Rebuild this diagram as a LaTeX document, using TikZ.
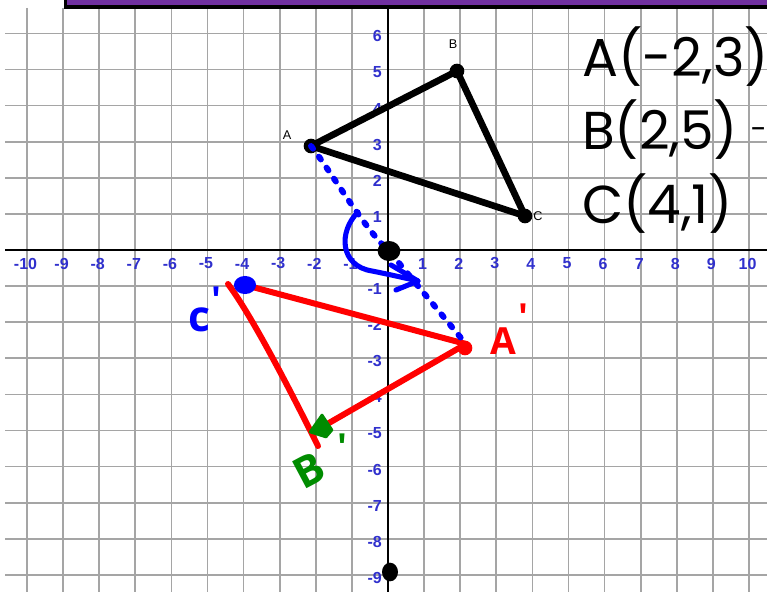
\documentclass[tikz,border=0pt]{standalone}
\usepackage{fontspec}
\newfontfamily\gothic{Poppins}
\newfontfamily\arialfont{Liberation Sans}
\newfontfamily\handfont{Open Sans}
\definecolor{gridgray}{RGB}{165,165,165}
\definecolor{axisblue}{RGB}{48,48,205}
\definecolor{barpurple}{RGB}{112,48,160}
\definecolor{penblue}{RGB}{0,0,255}
\definecolor{penred}{RGB}{255,0,0}
\definecolor{pengreen}{RGB}{0,140,0}
\tikzset{
  gridline/.style={draw=gridgray, line width=1.3pt},
  axisline/.style={draw=black, line width=2.2pt},
  xlab/.style={text=axisblue, font=\arialfont\bfseries\fontsize{12}{12}\selectfont, inner sep=0pt},
  ylab/.style={xlab, anchor=east},
  bigtext/.style={font=\gothic\fontsize{40}{40}\selectfont, inner sep=0pt, anchor=base west},
  smalllab/.style={font=\arialfont\fontsize{9.5}{9.5}\selectfont, inner sep=0pt},
  blackline/.style={draw=black, line width=5pt, line join=round, line cap=round},
  redline/.style={draw=penred, line width=4.5pt, line join=round, line cap=round},
  bluedash/.style={draw=penblue, line width=4.5pt, line cap=round, dash pattern=on 2.5pt off 7.5pt},
  bluepen/.style={draw=penblue, line width=3.8pt, line cap=round, line join=round},
  hand/.style={font=\handfont\bfseries\fontsize{#1}{#1}\selectfont, inner sep=0pt},
}
\begin{document}
\begin{tikzpicture}[x=0.75pt,y=-0.75pt]
\useasboundingbox (0,0) rectangle (767,592);
\clip (0,0) rectangle (767,592);
\fill[white] (0,0) rectangle (767,592);
% grid
\foreach \k in {-10,...,10} \draw[gridline] ({388+36.1*\k},8) -- ({388+36.1*\k},592);
\foreach \k in {-9,...,6} \draw[gridline] (5,{250-36.1*\k}) -- (767,{250-36.1*\k});
% purple bar
\fill[barpurple] (65,-5) rectangle (780,6);
\draw[black, line width=2.4pt] (65.5,-5) -- (65.5,7) -- (780,7);
% axes
\draw[axisline] (5,250) -- (767,250);
\draw[axisline] (388,7) -- (388,592);
% axis labels
\foreach \k in {-10,-9,-8,-7,-6,-5,-4,-3,-2,-1,1,2,3,4,5,6,7,8,9,10}
  \node[xlab] (xl\k) at ({388+36.1*\k-1.5},263.5) {\k};
\foreach \k in {6,5,4,3,2,1,-1,-2,-3,-4,-5,-6,-7,-8,-9}
  \node[ylab] (yl\k) at (382,{250-36.1*\k+3}) {\k};
% big coordinate text
\node[bigtext] (tA) at (582,76) {A(-2,3)};
\node[bigtext] (tB) at (582,149) {B(2,5)};
\node[font=\gothic\fontsize{22}{22}\selectfont, inner sep=0pt, anchor=east] (tBdash) at (767,134) {-};
\node[bigtext] (tC) at (582,223) {C(4,1)};
% original triangle
\coordinate (A) at (311,146);
\coordinate (B) at (457,71);
\coordinate (C) at (525,216);
\coordinate (O) at (389,251);
\draw[blackline] (A) -- (B) -- (C) -- cycle;
\foreach \p in {A,B,C} \fill[black] (\p) circle (5.5pt);
\node[smalllab] (lA) at (287,135) {A};
\node[smalllab] (lB) at (453,44) {B};
\node[smalllab] (lC) at (538,216) {C};
% image triangle
\coordinate (Cp) at (228,284);
\coordinate (Cpd) at (245,285);
\coordinate (Ap) at (466,344);
\coordinate (Bp) at (322,427);
\coordinate (Bend) at (318,446);
\draw[redline] (Cp) .. controls (255,320) and (300,410) .. (Bend);
\draw[redline] (Cpd) -- (Ap);
\draw[redline] (Ap) -- (Bp);
\fill[penred] (465,348) circle (5.5pt);
% rotation path
\draw[bluedash] (A) .. controls (330,170) and (365,230) .. (O) -- (Ap);
\coordinate (arcS) at (358,212);
\coordinate (arcE) at (418,281);
\draw[bluepen] (arcS) .. controls (338,232) and (340,266) .. (372,271) .. controls (392,275) and (405,278) .. (arcE);
\coordinate (headL) at (391,265);
\coordinate (headR) at (396,290);
\draw[bluepen] (headL) -- (arcE) -- (headR);
% dots
\fill[black] (O) ellipse [x radius=8.5pt, y radius=7.5pt];
\fill[black] (390,572) ellipse [x radius=6pt, y radius=7pt];
\fill[penblue] (Cpd) ellipse [x radius=8.3pt, y radius=6.8pt];
\filldraw[pengreen, line width=2pt, line join=round] (310,432) -- (322,415) -- (332,430) -- (326,437) -- cycle;
% handwritten labels
\node[hand=32, text=penblue] (lCp) at (199,320) {c};
\node[hand=28, text=penblue, anchor=north west] (lCpp) at (211,287) {'};
\node[hand=32, text=pengreen, rotate=28] (lBp) at (309,470) {B};
\node[hand=28, text=pengreen, anchor=north west] (lBpp) at (337,434) {'};
\node[hand=28, text=penred] (lAp) at (503,341) {A};
\node[hand=28, text=penred, anchor=north west] (lApp) at (518,304) {'};
\end{tikzpicture}
\end{document}
